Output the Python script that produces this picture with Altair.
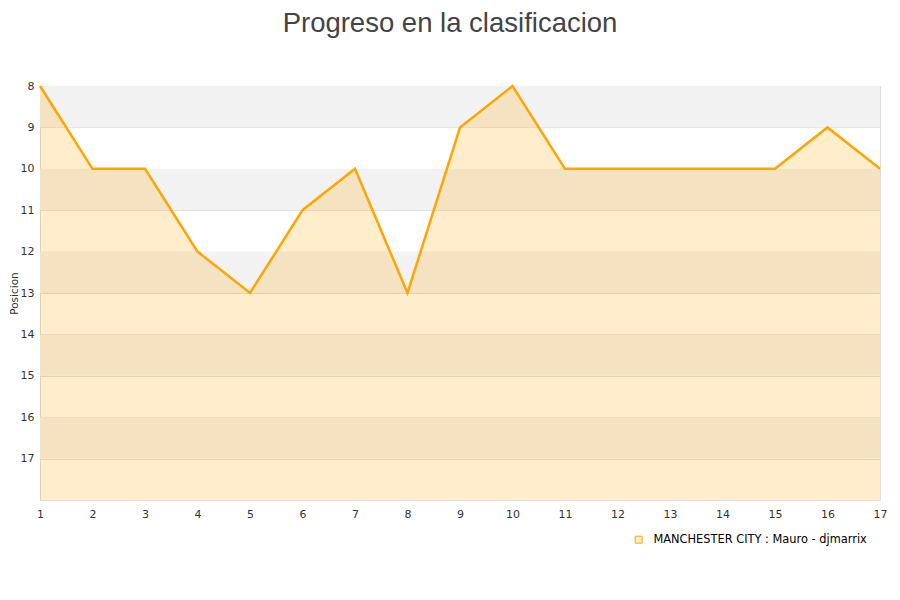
import altair as alt
import pandas as pd

jornadas = list(range(1, 18))
posiciones = [8, 10, 10, 12, 13, 11, 10, 13, 9, 8, 10, 10, 10, 10, 10, 9, 10]
serie = "MANCHESTER CITY : Mauro - djmarrix"
band_start = [8, 10, 12, 14, 16]
band_end = [9, 11, 13, 15, 17]
y_ticks = list(range(8, 18))

df = pd.DataFrame({"jornada": jornadas, "pos": posiciones, "serie": serie, "base": 18})
bands = pd.DataFrame({"y": band_start, "y2": band_end})

FONT = "DejaVu Sans"
xs = alt.Scale(domain=[1, 17], nice=False, zero=False)
ys = alt.Scale(domain=[8, 18], reverse=True, nice=False, zero=False)

band_layer = alt.Chart(bands).mark_rect(color="#f2f2f2").encode(
    x=alt.value(0), x2=alt.value(840),
    y=alt.Y("y:Q", scale=ys, title="Posicion",
            axis=alt.Axis(values=y_ticks, grid=True, gridColor="#dddddd", ticks=False,
                          domain=False, labelPadding=6, labelFontSize=11, labelColor="#333333",
                          titleFontSize=10.5, titleFontWeight="normal", titleColor="#333333",
                          titlePadding=1, labelFont=FONT, titleFont=FONT)),
    y2="y2:Q",
)

area = alt.Chart(df).mark_area(opacity=0.2, color="#ffa500").encode(
    x=alt.X("jornada:Q", scale=xs, title=None,
            axis=alt.Axis(values=jornadas, grid=False, ticks=False, domain=False,
                          labelPadding=8, labelFontSize=11, labelColor="#333333", labelFont=FONT,
                          labelFlush=False, format="d")),
    y=alt.Y("pos:Q", scale=ys),
    y2="base:Q",
)

line = alt.Chart(df).mark_line(strokeWidth=2.5).encode(
    x=alt.X("jornada:Q", scale=xs),
    y=alt.Y("pos:Q", scale=ys),
    stroke=alt.Stroke("serie:N", scale=alt.Scale(range=["#ffa500"]),
                      legend=alt.Legend(title=None, orient="none", legendX=593, legendY=448,
                                        symbolType="square", symbolSize=49,
                                        symbolStrokeWidth=1, symbolFillColor="#feecca",
                                        symbolOpacity=1, labelFontSize=11.4, labelColor="#000000",
                                        labelFont=FONT, labelOffset=9, labelLimit=400)),
)

chart = alt.layer(band_layer, area, line).properties(
    width=840, height=414,
    padding={"left": 32, "top": 78, "right": 12, "bottom": 92},
    autosize=alt.AutoSizeParams(type="none"),
    title=alt.TitleParams("Progreso en la clasificacion", fontSize=27.5, font="Liberation Sans",
                          fontWeight="normal", color="#444444", anchor="middle",
                          offset=43, dx=-10),
).configure_view(stroke="#dddddd", strokeWidth=1)

chart.save("out.html", embed_options={"renderer": "svg", "actions": False})
